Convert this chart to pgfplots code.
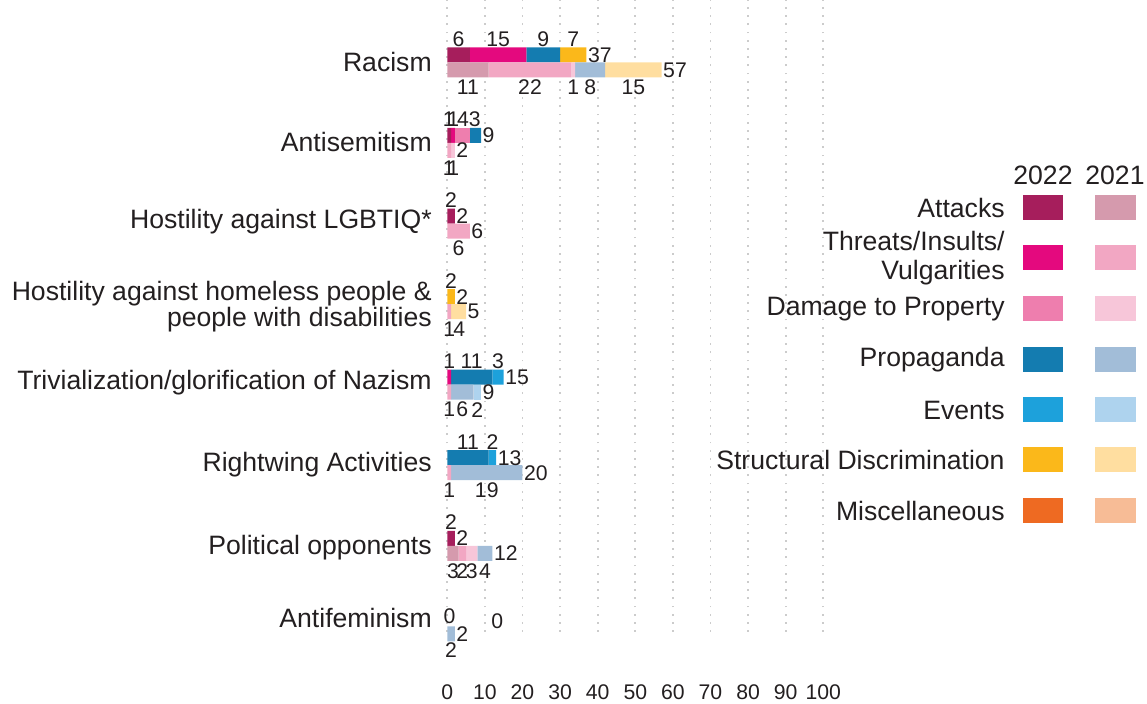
\documentclass[border=0pt]{standalone}
\usepackage{fontspec}
\setmainfont{Liberation Sans}
\usepackage{pgfplots}
\pgfplotsset{compat=1.18}
\usepackage{pgfplotstable}

\definecolor{c22at}{HTML}{A61E5C}
\definecolor{c22th}{HTML}{E4097E}
\definecolor{c22da}{HTML}{EE7EAE}
\definecolor{c22pr}{HTML}{147CB0}
\definecolor{c22ev}{HTML}{1DA1DB}
\definecolor{c22st}{HTML}{FBB81A}
\definecolor{c22mi}{HTML}{EE6A22}
\definecolor{c21at}{HTML}{D59AAD}
\definecolor{c21th}{HTML}{F2A7C3}
\definecolor{c21da}{HTML}{F7C6D9}
\definecolor{c21pr}{HTML}{A2BDD8}
\definecolor{c21ev}{HTML}{AED3EE}
\definecolor{c21st}{HTML}{FFDEA0}
\definecolor{c21mi}{HTML}{F7BC96}
\definecolor{txt}{HTML}{231F20}

% 2022 bars (y = category position + 0.093)
\pgfplotstableread{
y      At Th Da Pr Ev St Mi
0.093   6 15 0  9  0  7  0
-0.907  1  1 4  3  0  0  0
-1.907  2  0 0  0  0  0  0
-2.907  0  0 0  0  0  2  0
-3.907  0  1 0 11  3  0  0
-4.907  0  0 0 11  2  0  0
-5.907  2  0 0  0  0  0  0
-6.907  0  0 0  0  0  0  0
}\dataA
% 2021 bars (y = category position - 0.093)
\pgfplotstableread{
y      At Th Da Pr Ev St Mi
-0.093 11 22 1  8  0 15  0
-1.093  0  1 1  0  0  0  0
-2.093  0  6 0  0  0  0  0
-3.093  0  1 0  0  0  4  0
-4.093  0  1 0  6  2  0  0
-5.093  0  1 0 19  0  0  0
-6.093  3  2 3  4  0  0  0
-7.093  0  0 0  2  0  0  0
}\dataB
% segment labels
\pgfplotstableread{
x y l
3 0.29 6
13.5 0.29 15
25.5 0.29 9
33.5 0.29 7
0.4 -0.71 1
1.6 -0.71 1
4.2 -0.71 4
7.3 -0.71 3
1 -1.71 2
1 -2.71 2
0.5 -3.71 1
6.5 -3.71 11
13.5 -3.71 3
5.5 -4.71 11
12 -4.71 2
1 -5.71 2
0.6 -6.875 0
13.3 -6.93 0
5.5 -0.31 11
22 -0.31 22
33.5 -0.31 1
38 -0.31 8
49.5 -0.31 15
0.4 -1.31 1
1.6 -1.31 1
3 -2.31 6
0.5 -3.31 1
3.2 -3.31 4
0.5 -4.31 1
4 -4.31 6
8 -4.31 2
0.5 -5.31 1
10.5 -5.31 19
1.5 -6.31 3
4 -6.31 2
6.5 -6.31 3
10 -6.31 4
1 -7.29 2
}\seglabels
% totals
\pgfplotstableread{
x y l
37 0.093 37
9 -0.907 9
2 -1.907 2
2 -2.907 2
15 -3.907 15
13 -4.907 13
2 -5.907 2
57 -0.093 57
2 -1.093 2
6 -2.093 6
5 -3.093 5
9 -4.093 9
20 -5.093 20
12 -6.093 12
2 -7.093 2
}\totlabels

\newcommand{\catfont}{\fontsize{13.3}{13}\selectfont}
\newcommand{\valfont}{\fontsize{10.6}{12}\selectfont}

\pgfplotsset{
  base/.style={at={(0,0)}, anchor=south west, scale only axis,
    width=188pt, height=316pt, xmin=0, xmax=100, ymin=-7.07, ymax=0.775, clip=false},
  barax/.style={base, xbar stacked, bar width=0.186},
}

\begin{document}
\begin{tikzpicture}
\useasboundingbox (-223.65pt,-36pt) rectangle (349.85pt,316pt);

\begin{axis}[barax,
  axis line style={draw=none}, tick style={draw=none},
  xmajorgrids, grid style={gray!40, line width=0.9pt, dash pattern=on 0.9pt off 3.2pt},
  xtick={0,10,...,100},
  /pgf/number format/assume math mode=true,
  xticklabel style={anchor=center, yshift=-30pt, inner sep=0pt, text=txt, font=\fontsize{10.6}{12}\selectfont},
  ytick={0,-0.99,-1.98,-3.03,-3.98,-4.99,-6.02,-6.9},
  yticklabels={Racism, Antisemitism, {Hostility against LGBTIQ*}, {Hostility against homeless people \&\\people with disabilities}, {Trivialization/glorification of Nazism}, Rightwing Activities, Political opponents, Antifeminism},
  yticklabel style={align=right, anchor=east, inner sep=0pt, xshift=-7.6pt, text=txt, font=\catfont},
]
\addplot[fill=c22at, draw=none] table[x=At, y=y] {\dataA};
\addplot[fill=c22th, draw=none] table[x=Th, y=y] {\dataA};
\addplot[fill=c22da, draw=none] table[x=Da, y=y] {\dataA};
\addplot[fill=c22pr, draw=none] table[x=Pr, y=y] {\dataA};
\addplot[fill=c22ev, draw=none] table[x=Ev, y=y] {\dataA};
\addplot[fill=c22st, draw=none] table[x=St, y=y] {\dataA};
\addplot[fill=c22mi, draw=none] table[x=Mi, y=y] {\dataA};
\end{axis}

\begin{axis}[barax, hide axis]
\addplot[fill=c21at, draw=none] table[x=At, y=y] {\dataB};
\addplot[fill=c21th, draw=none] table[x=Th, y=y] {\dataB};
\addplot[fill=c21da, draw=none] table[x=Da, y=y] {\dataB};
\addplot[fill=c21pr, draw=none] table[x=Pr, y=y] {\dataB};
\addplot[fill=c21ev, draw=none] table[x=Ev, y=y] {\dataB};
\addplot[fill=c21st, draw=none] table[x=St, y=y] {\dataB};
\addplot[fill=c21mi, draw=none] table[x=Mi, y=y] {\dataB};
\end{axis}

\begin{axis}[base, hide axis]
\addplot[draw=none, mark=none, nodes near coords, point meta=explicit symbolic,
  nodes near coords style={anchor=center, inner sep=0pt, font=\valfont, text=txt}]
  table[x=x, y=y, meta=l] {\seglabels};
\addplot[draw=none, mark=none, nodes near coords, point meta=explicit symbolic,
  nodes near coords style={anchor=west, inner sep=0.6pt, font=\valfont, text=txt}]
  table[x=x, y=y, meta=l] {\totlabels};
\end{axis}

% legend
\begin{scope}[font=\catfont, text=txt]
\node at (297.85pt,228.5pt) {2022};
\node at (333.85pt,228.5pt) {2021};
\foreach \y/\a/\b/\t in {212/c22at/c21at/Attacks,
  187/c22th/c21th/{Threats/Insults/\\Vulgarities},
  161.5/c22da/c21da/Damage to Property,
  136/c22pr/c21pr/Propaganda,
  111/c22ev/c21ev/Events,
  86/c22st/c21st/Structural Discrimination,
  60.5/c22mi/c21mi/Miscellaneous}{
  \node[anchor=east, inner sep=0pt, align=right, font=\fontsize{13.3}{14.5}\selectfont] at (278.85pt,\y pt) {\t};
  \fill[\a] (287.85pt,\y pt-6.25pt) rectangle (307.85pt,\y pt+6.25pt);
  \fill[\b] (323.85pt,\y pt-6.25pt) rectangle (344.35pt,\y pt+6.25pt);
}
\end{scope}
\end{tikzpicture}
\end{document}
